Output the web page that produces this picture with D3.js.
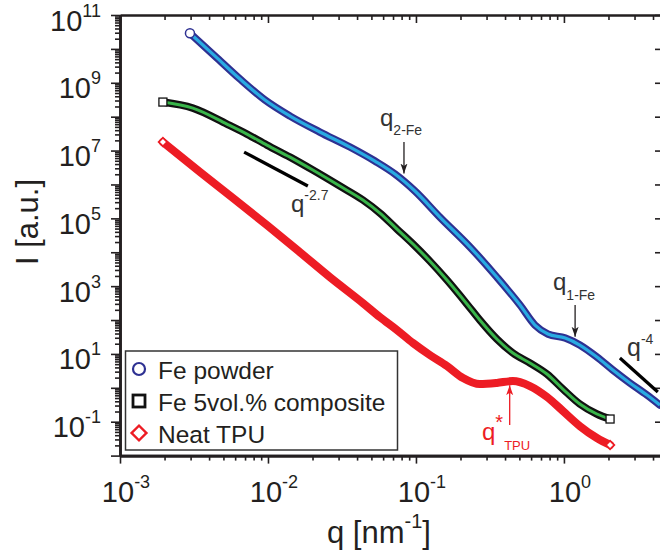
<!DOCTYPE html>
<html>
<head>
<meta charset="utf-8">
<script src="https://cdn.jsdelivr.net/npm/d3@7/dist/d3.min.js"></script>
<style>
  body { margin: 0; background: #fff; }
  text { font-family: "Liberation Sans", Arial, sans-serif; fill: #231f20; }
</style>
</head>
<body>
<svg></svg>
<script>
// ---- data ----
const feQ = [0.00297, 0.00439, 0.00647, 0.00955, 0.0141, 0.0224, 0.0358, 0.0528, 0.0721, 0.0984,
             0.145, 0.232, 0.352, 0.505, 0.637, 0.780, 1.02, 1.28, 1.67, 2.14, 2.79, 3.64, 4.45];
const feI = [2.9e10, 6.1e9, 1.29e9, 3.1e8, 1.04e8, 3.52e7, 1.27e7, 4.9e6, 2.03e6, 6.4e5,
             1.09e5, 1.42e4, 1.85e3, 277, 71, 38.6, 29.4, 18.3, 8.1, 3.35, 1.39, 0.61, 0.31];

const compQ = [0.00195, 0.00311, 0.00528, 0.00721, 0.00984, 0.0141, 0.0201, 0.0306, 0.0438, 0.0571,
               0.0745, 0.0955, 0.124, 0.162, 0.221, 0.270, 0.352, 0.452, 0.589, 0.767, 0.984, 1.28, 1.67, 2.05];
const compI = [2.70e8, 1.79e8, 6.05e7, 3.07e7, 1.45e7, 6.4e6, 2.66e6, 8.97e5, 3.47e5, 1.43e5,
               4.8e4, 1.75e4, 5.5e3, 1.51e3, 297, 100, 27.5, 10.6, 5.39, 2.55, 0.92, 0.333, 0.169, 0.12];

const tpuQ = [0.00195, 0.00348, 0.00581, 0.00984, 0.0164, 0.0262, 0.0438, 0.0571, 0.0745, 0.0955,
              0.124, 0.162, 0.208, 0.270, 0.352, 0.452, 0.589, 0.767, 0.984, 1.28, 1.67, 2.05];
const tpuI = [1.78e7, 2.32e6, 3.97e5, 6.3e4, 1.01e4, 1.85e3, 317, 122, 50.7, 21,
              9.3, 4.4, 1.95, 1.29, 1.39, 1.59, 1.13, 0.54, 0.207, 0.0746, 0.033, 0.0206];

const legendLabels = ["Fe powder", "Fe 5vol.% composite", "Neat TPU"];
const yLabelExps = [11, 9, 7, 5, 3, 1, -1];
const xLabelExps = [-3, -2, -1, 0];

// power-law guide lines
const slope27Q = [0.0069, 0.0186], slope27I = [9.0e6, 9.0e5];
const slope4Q = [2.39, 4.31], slope4I = [7.6, 0.75];

// ---- svg ----
const svgW = 660, svgH = 554;
const svg = d3.select("svg").attr("width", svgW).attr("height", svgH);

const x = d3.scaleLog().domain([1e-3, 4.6]).range([120, 662]);
const y = d3.scaleLog().domain([1e-2, 1e11]).range([455.6, 15]);

const ink = "#231f20";

// tick values
const xMajor = d3.range(-3, 1).map(e => Math.pow(10, e));
const xMinor = [];
for (let e = -3; e <= 0; e++) for (let m = 2; m <= 9; m++) if (m * Math.pow(10, e) <= 4.6) xMinor.push(m * Math.pow(10, e));
const yMajor = d3.range(-2, 12).map(e => Math.pow(10, e));
const yMinor = [];
for (let e = -2; e < 11; e++) for (let m = 2; m <= 9; m++) yMinor.push(m * Math.pow(10, e));

function styleAxis(g, w) {
  g.select(".domain").attr("stroke", ink).attr("stroke-width", w);
  g.selectAll(".tick line").attr("stroke", ink).attr("stroke-width", 1.6);
  g.selectAll(".tick text").remove();
}

// bottom
svg.append("g").attr("transform", "translate(0,455.6)")
  .call(d3.axisBottom(x).tickValues(xMajor).tickSize(8).tickSizeOuter(0).tickFormat(""))
  .call(g => styleAxis(g, 2.6));
svg.append("g").attr("transform", "translate(0,455.6)")
  .call(d3.axisBottom(x).tickValues(xMinor).tickSize(5).tickSizeOuter(0).tickFormat(""))
  .call(g => styleAxis(g, 2.6));
// top (ticks inward)
svg.append("g").attr("transform", "translate(0,15)")
  .call(d3.axisBottom(x).tickValues(xMajor).tickSize(8).tickSizeOuter(0).tickFormat(""))
  .call(g => styleAxis(g, 2));
svg.append("g").attr("transform", "translate(0,15)")
  .call(d3.axisBottom(x).tickValues(xMinor).tickSize(5).tickSizeOuter(0).tickFormat(""))
  .call(g => styleAxis(g, 2));
// left
svg.append("g").attr("transform", "translate(120,0)")
  .call(d3.axisLeft(y).tickValues(yMajor).tickSize(9).tickSizeOuter(0).tickFormat(""))
  .call(g => styleAxis(g, 2.6));
svg.append("g").attr("transform", "translate(120,0)")
  .call(d3.axisLeft(y).tickValues(yMinor).tickSize(5).tickSizeOuter(0).tickFormat(""))
  .call(g => styleAxis(g, 2.6));
// right (ticks inward, axis line just off the picture)
svg.append("g").attr("transform", "translate(662,0)")
  .call(d3.axisLeft(y).tickValues(yMajor).tickSize(7).tickSizeOuter(0).tickFormat(""))
  .call(g => styleAxis(g, 2));

// tick labels
function powText(sel, e) {
  sel.append("tspan").text("10");
  sel.append("tspan").attr("dy", -14).attr("font-size", 18).text(e);
}
yLabelExps.forEach(e => {
  svg.append("text")
    .attr("x", 101).attr("y", y(Math.pow(10, e)) + 15.5)
    .attr("text-anchor", "end").attr("font-size", 29)
    .call(s => powText(s, e));
});
xLabelExps.forEach(e => {
  svg.append("text")
    .attr("x", x(Math.pow(10, e)) + 6).attr("y", 501.7)
    .attr("text-anchor", "middle").attr("font-size", 29)
    .call(s => powText(s, e));
});

// axis titles
const xTitle = svg.append("text").attr("x", 327).attr("y", 543).attr("font-size", 31);
xTitle.append("tspan").text("q [nm");
xTitle.append("tspan").attr("dy", -15).attr("font-size", 20).text("-1");
xTitle.append("tspan").attr("dy", 15).text("]");

svg.append("text")
  .attr("transform", "translate(38,222) rotate(-90)")
  .attr("text-anchor", "middle").attr("font-size", 31)
  .text("I [a.u.]");

// ---- curves ----
const line = d3.line().x(d => x(d[0])).y(d => y(d[1])).curve(d3.curveMonotoneX);
const fe = d3.zip(feQ, feI), comp = d3.zip(compQ, compI), tpu = d3.zip(tpuQ, tpuI);

const plot = svg.append("g");
plot.append("path").attr("d", line(tpu)).attr("fill", "none")
  .attr("stroke", "#ed1c24").attr("stroke-width", 8).attr("stroke-linecap", "round");
plot.append("path").attr("d", line(comp)).attr("fill", "none")
  .attr("stroke", "#111").attr("stroke-width", 7.5).attr("stroke-linecap", "round");
plot.append("path").attr("d", line(comp)).attr("fill", "none")
  .attr("stroke", "#39b54a").attr("stroke-width", 3);
plot.append("path").attr("d", line(fe)).attr("fill", "none")
  .attr("stroke", "#2e3192").attr("stroke-width", 7.5).attr("stroke-linecap", "round");
plot.append("path").attr("d", line(fe)).attr("fill", "none")
  .attr("stroke", "#29abe2").attr("stroke-width", 3.2);

// end markers
function drawDiamond(g, cx, cy, s, fill) {
  return g.append("path").attr("transform", `translate(${cx},${cy}) rotate(45)`)
    .attr("d", d3.symbol().type(d3.symbolSquare).size(s * s)())
    .attr("fill", fill).attr("stroke", "#ed1c24").attr("stroke-width", 1.8);
}
plot.append("circle").attr("cx", x(feQ[0])).attr("cy", y(feI[0])).attr("r", 4.5)
  .attr("fill", "#fff").attr("stroke", "#2e3192").attr("stroke-width", 1.5);
plot.append("rect").attr("x", x(compQ[0]) - 4).attr("y", y(compI[0]) - 4).attr("width", 8).attr("height", 8)
  .attr("fill", "#fff").attr("stroke", "#111").attr("stroke-width", 1.3);
plot.append("rect").attr("x", x(compQ[compQ.length - 1]) - 4).attr("y", y(compI[compI.length - 1]) - 4)
  .attr("width", 8).attr("height", 8)
  .attr("fill", "#fff").attr("stroke", "#111").attr("stroke-width", 1.3);
drawDiamond(plot, x(tpuQ[0]), y(tpuI[0]), 6, "#fff");
drawDiamond(plot, x(tpuQ[tpuQ.length - 1]), y(tpuI[tpuI.length - 1]), 6, "#fff");

// ---- guide lines & annotations ----
svg.append("line")
  .attr("x1", x(slope27Q[0])).attr("y1", y(slope27I[0]))
  .attr("x2", x(slope27Q[1])).attr("y2", y(slope27I[1]))
  .attr("stroke", "#000").attr("stroke-width", 3.2);
svg.append("line")
  .attr("x1", x(slope4Q[0])).attr("y1", y(slope4I[0]))
  .attr("x2", x(slope4Q[1])).attr("y2", y(slope4I[1]))
  .attr("stroke", "#000").attr("stroke-width", 3.2);

const defs = svg.append("defs");
[["arrBlack", "#231f20"], ["arrRed", "#ed1c24"]].forEach(([id, c]) => {
  defs.append("marker").attr("id", id).attr("viewBox", "0 0 10 10")
    .attr("refX", 10).attr("refY", 5).attr("markerWidth", 10).attr("markerHeight", 10)
    .attr("markerUnits", "userSpaceOnUse").attr("orient", "auto")
    .append("path").attr("d", "M0,1.5 L10,5 L0,8.5 L2.5,5 Z").attr("fill", c);
});

function arrow(q, i1, i2, id, c) {
  svg.append("line")
    .attr("x1", x(q)).attr("y1", y(i1)).attr("x2", x(q)).attr("y2", y(i2))
    .attr("stroke", c).attr("stroke-width", 1.3).attr("marker-end", `url(#${id})`);
}
arrow(0.083, 1.8e7, 2.1e6, "arrBlack", ink);
arrow(1.19, 2.8e2, 3.2e1, "arrBlack", ink);
arrow(0.43, 0.08, 1.2, "arrRed", "#ed1c24");

function label(px, py, main, extra, dy, color, mainSize, extraSize) {
  const t = svg.append("text").attr("x", px).attr("y", py).attr("font-size", mainSize);
  if (color) t.style("fill", color);
  t.append("tspan").text(main);
  t.append("tspan").attr("dy", dy).attr("font-size", extraSize).text(extra);
  return t;
}
label(380, 126, "q", "2-Fe", 9, "#333", 24, 14);
label(553, 290, "q", "1-Fe", 10, "#333", 24, 14);
label(627, 356, "q", "-4", -12, "#333", 25, 14);
label(291, 212, "q", "-2.7", -12, "#333", 24, 14);
const tq = label(482, 440, "q", "*", -11, "#ed1c24", 24, 20);
tq.append("tspan").attr("dy", 21).attr("dx", 1).attr("font-size", 13).text("TPU");

// ---- legend ----
const leg = svg.append("g");
leg.append("rect").attr("x", 125.5).attr("y", 351).attr("width", 272).attr("height", 99)
  .attr("fill", "#fff").attr("stroke", "#333").attr("stroke-width", 1.5);
const legY = [369, 401, 433];
leg.append("circle").attr("cx", 139).attr("cy", legY[0]).attr("r", 6)
  .attr("fill", "none").attr("stroke", "#2e3192").attr("stroke-width", 2.2);
leg.append("rect").attr("x", 133).attr("y", legY[1] - 6).attr("width", 12).attr("height", 12)
  .attr("fill", "#fff").attr("stroke", "#111").attr("stroke-width", 2.8);
drawDiamond(leg, 139, legY[2], 10.5, "none").attr("stroke-width", 2.4);
legendLabels.forEach((l, i) => {
  leg.append("text").attr("x", 158).attr("y", legY[i] + 10)
    .attr("font-size", 24.5).text(l);
});
</script>
</body>
</html>
